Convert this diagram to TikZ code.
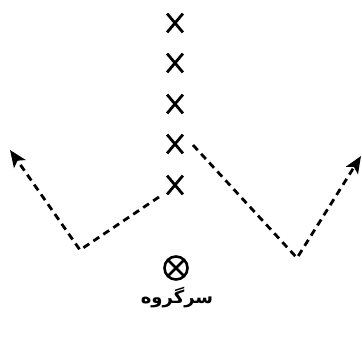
\documentclass[tikz,border=0pt]{standalone}
\usepackage{fontspec}
\newfontfamily\arabicfont[Script=Arabic]{DejaVu Sans}
\TeXXeTstate=1
\usetikzlibrary{shapes.misc,arrows.meta}
\tikzset{
  player/.style={cross out,draw=black,line width=2.8pt,minimum width=13pt,minimum height=16pt,inner sep=0pt},
  leader/.style={circle,draw=black,line width=2.6pt,minimum size=23pt,inner sep=0pt,
    path picture={\draw[line width=2.6pt] (path picture bounding box.south west) -- (path picture bounding box.north east)
      (path picture bounding box.north west) -- (path picture bounding box.south east);}},
  route/.style={line width=2.8pt,dash pattern=on 7pt off 5pt,-{Stealth[length=17pt,width=14pt,inset=4pt]}},
  caption/.style={font=\arabicfont\bfseries\fontsize{18}{22}\selectfont}
}
\begin{document}
\begin{tikzpicture}[x=1pt,y=-1pt]
\useasboundingbox (0,0) rectangle (362,337);
% column of players
\node[player] (p1) at (175,23) {};
\node[player] (p2) at (175,63) {};
\node[player] (p3) at (175,104) {};
\node[player] (p4) at (175,144) {};
\node[player] (p5) at (175,185) {};
% group leader
\node[leader] (lead) at (176,268) {};
\node[caption] (cap) at (177,298) {\beginR سرگروه\endR};
% running routes
\coordinate (ls) at (159,197);
\coordinate (lc) at (80,250);
\coordinate (lt) at (10,150);
\coordinate (rs) at (193,145);
\coordinate (rc) at (297,258);
\coordinate (rt) at (361,156);
\draw[route] (ls) -- (lc) -- (lt);
\draw[route] (rs) -- (rc) -- (rt);
\end{tikzpicture}
\end{document}
